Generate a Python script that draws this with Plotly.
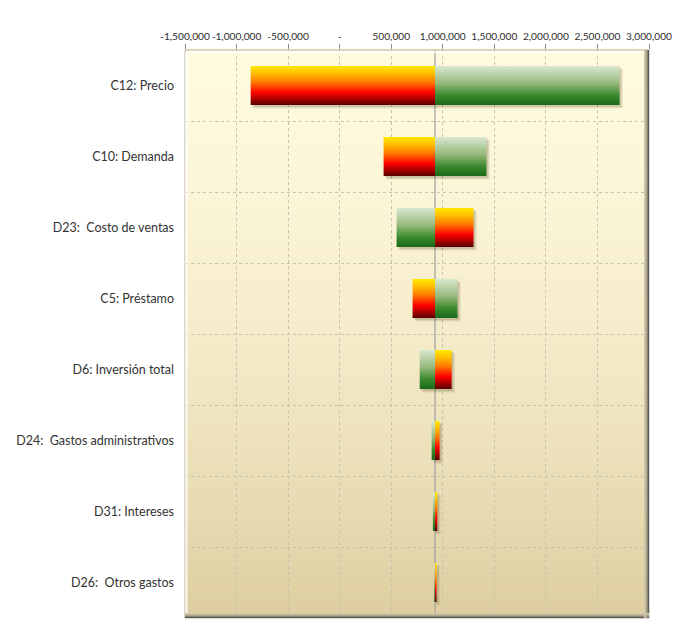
import plotly.graph_objects as go

# Tornado chart: sensitivity of the result to each input variable
categories = [
    "C12: Precio",
    "C10: Demanda",
    "D23:  Costo de ventas",
    "C5: Préstamo",
    "D6: Inversión total",
    "D24:  Gastos administrativos",
    "D31: Intereses",
    "D26:  Otros gastos",
]
base_value = 925000
# result with the input at its low value (warm bars)
low_input_result = [-863000, 426000, 1298000, 707000, 1086000, 969000, 947000, 940000]
# result with the input at its high value (green bars)
high_input_result = [2715000, 1424000, 552000, 1143000, 776000, 892000, 904000, 918000]

tick_values = [-1500000, -1000000, -500000, 0, 500000, 1000000, 1500000, 2000000, 2500000, 3000000]
tick_labels = ["-1,500,000", "-1,000,000", "-500,000", "-", "500,000", "1,000,000",
               "1,500,000", "2,000,000", "2,500,000", "3,000,000"]

warm_scale = [[0.0, "#560000"], [0.15, "#A80000"], [0.32, "#FF0000"],
              [0.58, "#FF7800"], [0.82, "#FFC200"], [1.0, "#FFE900"]]
green_scale = [[0.0, "#19691A"], [0.25, "#3C8A2E"], [0.55, "#94B87A"], [1.0, "#DAE8D0"]]

n = len(categories)
half = 0.275
y_pos = [n - 1 - i for i in range(n)]

fig = go.Figure()


def bar_outline(x0, x1, yc, dx=0.0, dy=0.0):
    xs = [x0 + dx, x1 + dx, x1 + dx, x0 + dx, x0 + dx]
    ys = [yc - half + dy, yc - half + dy, yc + half + dy, yc + half + dy, yc - half + dy]
    return xs, ys


# soft drop shadows
for yc, lo, hi in zip(y_pos, low_input_result, high_input_result):
    x0, x1 = min(lo, hi, base_value), max(lo, hi, base_value)
    for dx, dy, alpha in [(30000, -0.05, 0.10), (18000, -0.03, 0.16)]:
        xs, ys = bar_outline(x0, x1, yc, dx, dy)
        fig.add_trace(go.Scatter(x=xs, y=ys, mode="lines", line=dict(width=0),
                                 fill="toself", fillcolor=f"rgba(70,50,10,{alpha})",
                                 hoverinfo="skip", showlegend=False))

# gradient bars
for yc, name, lo, hi in zip(y_pos, categories, low_input_result, high_input_result):
    for val, scale in [(lo, warm_scale), (hi, green_scale)]:
        xs, ys = bar_outline(base_value, val, yc)
        fig.add_trace(go.Scatter(
            x=xs, y=ys, mode="lines", line=dict(width=0), fill="toself",
            fillgradient=dict(type="vertical", colorscale=scale),
            name=name, hoverinfo="skip", showlegend=False))

# background gradient of the plotting area (strips, drawn below the grid)
top_rgb = (255, 250, 222)
bottom_rgb = (222, 206, 160)
steps = 90
for k in range(steps):
    t = (k + 0.5) / steps
    w = t ** 1.6
    c = tuple(round(top_rgb[j] + (bottom_rgb[j] - top_rgb[j]) * w) for j in range(3))
    fig.add_shape(type="rect", xref="paper", yref="paper", x0=0, x1=1,
                  y0=1 - (k + 1) / steps, y1=1 - k / steps + 0.002,
                  line=dict(width=0), fillcolor=f"rgb{c}", layer="below")

# base value line
fig.add_shape(type="line", xref="x", yref="paper", x0=base_value, x1=base_value,
              y0=0, y1=1, line=dict(color="#9E9E9E", width=1.2), layer="between")

# bevelled frame
fig.add_shape(type="rect", xref="paper", yref="paper", x0=0, x1=1, y0=0, y1=1,
              line=dict(color="#B8B09A", width=1), layer="above")
fig.add_shape(type="line", xref="paper", yref="paper", x0=0.004, x1=0.996, y0=0.996, y1=0.996,
              line=dict(color="rgba(255,255,255,0.9)", width=2), layer="above")
fig.add_shape(type="line", xref="paper", yref="paper", x0=0.003, x1=0.003, y0=0.004, y1=0.996,
              line=dict(color="rgba(255,255,255,0.9)", width=2), layer="above")
for off, col in [(1, "#5A5A5A"), (2, "#8A8676"), (3, "#ADA58C"), (4, "#C4BA9C"), (5, "#D3C9A9")]:
    fig.add_shape(type="line", xref="paper", yref="paper", xsizemode="pixel", xanchor=1,
                  x0=-off + 0.5, x1=-off + 0.5, y0=0, y1=1,
                  line=dict(color=col, width=1), layer="above")
    fig.add_shape(type="line", xref="paper", yref="paper", ysizemode="pixel", yanchor=0,
                  y0=off - 0.5, y1=off - 0.5, x0=0, x1=1,
                  line=dict(color=col, width=1), layer="above")

fig.update_layout(
    width=675, height=619,
    margin=dict(l=185, r=26, t=50, b=1),
    paper_bgcolor="white",
    plot_bgcolor="#FFFADE",
    font=dict(family="Lato, 'Open Sans', sans-serif", color="#333333"),
    xaxis=dict(
        range=[-1500000, 3000000], side="top",
        tickmode="array", tickvals=tick_values, ticktext=tick_labels,
        ticks="outside", ticklen=5, tickcolor="#8A8A8A", tickangle=0,
        tickfont=dict(size=10.2, color="#2E2E2E"),
        showgrid=True, gridcolor="#C9C3AE", griddash="3px,3px", gridwidth=1,
        zeroline=False, showline=False, fixedrange=True,
    ),
    yaxis=dict(
        range=[-0.5, n - 0.5],
        tickmode="array", tickvals=y_pos, ticktext=categories,
        tickfont=dict(size=12.5, color="#333333"),
        ticklabelstandoff=10,
        showgrid=False, zeroline=False, showline=False,
        minor=dict(tickmode="array", tickvals=[k + 0.5 for k in range(n - 1)],
                   showgrid=True, gridcolor="#C9C3AE", griddash="3px,3px", ticks=""),
        fixedrange=True,
    ),
)

fig.write_html("out.html")
